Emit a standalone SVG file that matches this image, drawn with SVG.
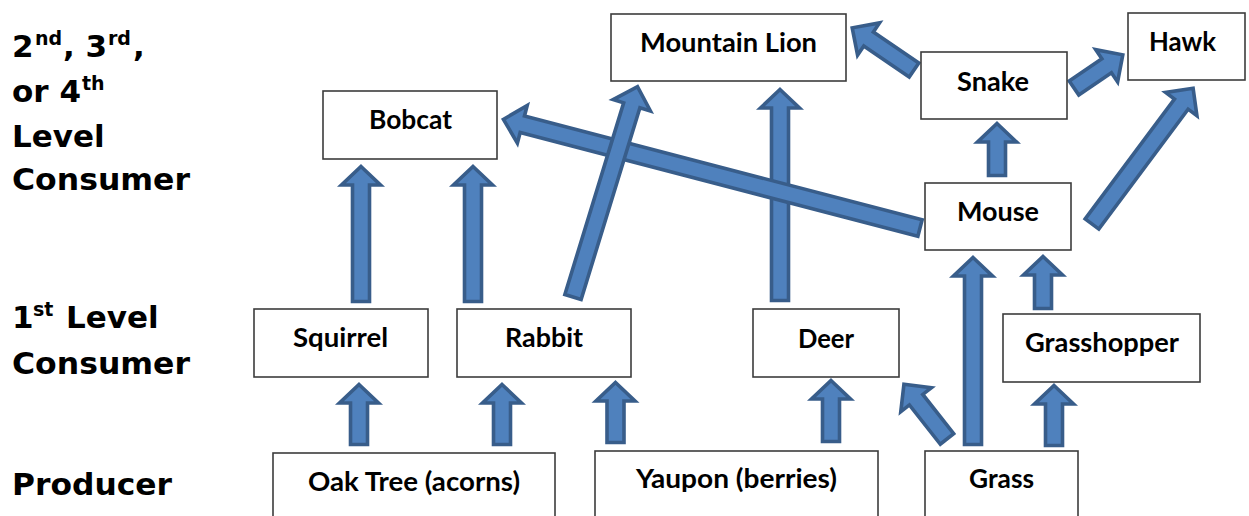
<svg xmlns="http://www.w3.org/2000/svg" width="1249" height="516" viewBox="0 0 1249 516">
<style>
.box{fill:#fff;stroke:#3c3c3c;stroke-width:1.6}
.lbl{font-family:Lato,"Open Sans","Liberation Sans",sans-serif;font-weight:700;font-size:26px;fill:#000;text-anchor:middle}
.side{font-family:"DejaVu Sans","Liberation Sans",sans-serif;font-weight:700;font-size:31px;fill:#000}
.sup{font-size:19px}
.arr{fill:#4F81BD;stroke:#385D8A;stroke-width:3.6;stroke-linejoin:miter}
</style>
<rect width="1249" height="516" fill="#fff"/>

<g id="side-labels">
<text class="side"><tspan x="12" y="57">2</tspan><tspan class="sup" x="35" y="45">nd</tspan><tspan x="63" y="57">, 3</tspan><tspan class="sup" x="108" y="45">rd</tspan><tspan x="133" y="57">,</tspan></text>
<text class="side"><tspan x="12" y="102">or 4</tspan><tspan class="sup" x="82" y="90">th</tspan></text>
<text class="side" x="12" y="147">Level</text>
<text class="side" x="12" y="190" textLength="178" lengthAdjust="spacingAndGlyphs">Consumer</text>
<text class="side"><tspan x="12" y="328">1</tspan><tspan class="sup" x="33" y="316">st</tspan><tspan x="66" y="328">Level</tspan></text>
<text class="side" x="12" y="374" textLength="178" lengthAdjust="spacingAndGlyphs">Consumer</text>
<text class="side" x="12" y="495" textLength="160" lengthAdjust="spacingAndGlyphs">Producer</text>
</g>

<g id="connectors">
<!-- vertical arrows -->
<polygon class="arr" points="359,384.5 378.5,403 367.5,403 367.5,444.5 350.5,444.5 350.5,403 339.5,403"/>
<polygon class="arr" points="502,384.5 521.5,403 510.5,403 510.5,444.5 493.5,444.5 493.5,403 482.5,403"/>
<polygon class="arr" points="615.5,382.5 635,401 624,401 624,442.5 607,442.5 607,401 596,401"/>
<polygon class="arr" points="831,380.5 850.5,399 839.5,399 839.5,441.5 822.5,441.5 822.5,399 811.5,399"/>
<polygon class="arr" points="1054,385.5 1073.5,404 1062.5,404 1062.5,445.5 1045.5,445.5 1045.5,404 1034.5,404"/>
<polygon class="arr" points="973,257.5 992.5,276 981.5,276 981.5,444.5 964.5,444.5 964.5,276 953.5,276"/>
<polygon class="arr" points="1043,256.5 1062.5,275 1051.5,275 1051.5,308.5 1034.5,308.5 1034.5,275 1023.5,275"/>
<polygon class="arr" points="997,123.5 1016.5,142 1005.5,142 1005.5,175.5 988.5,175.5 988.5,142 977.5,142"/>
<polygon class="arr" points="361,166.5 380.5,185 369.5,185 369.5,301.5 352.5,301.5 352.5,185 341.5,185"/>
<polygon class="arr" points="473,166.5 492.5,185 481.5,185 481.5,301.5 464.5,301.5 464.5,185 453.5,185"/>
<polygon class="arr" points="780,89.5 799.5,108 788.5,108 788.5,300.5 771.5,300.5 771.5,108 760.5,108"/>
<!-- diagonal arrows: local +x from tail to tip -->
<polygon class="arr" transform="translate(920,228) rotate(-165.38)" points="0,-8.5 411,-8.5 411,-19.5 430.5,0 411,19.5 411,8.5 0,8.5"/>
<polygon class="arr" transform="translate(573,297) rotate(-72.95)" points="0,-8.5 200.5,-8.5 200.5,-19.5 220,0 200.5,19.5 200.5,8.5 0,8.5"/>
<polygon class="arr" transform="translate(914,70) rotate(-145.69)" points="0,-8.5 55,-8.5 55,-19.5 74.8,0 55,19.5 55,8.5 0,8.5"/>
<polygon class="arr" transform="translate(1074,88) rotate(-34.22)" points="0,-8.5 39.5,-8.5 39.5,-19.5 59,0 39.5,19.5 39.5,8.5 0,8.5"/>
<polygon class="arr" transform="translate(1092,224) rotate(-53.33)" points="0,-8.5 149.5,-8.5 149.5,-19.5 169.3,0 149.5,19.5 149.5,8.5 0,8.5"/>
<polygon class="arr" transform="translate(947,439) rotate(-128.16)" points="0,-8.5 50,-8.5 50,-19.5 69.7,0 50,19.5 50,8.5 0,8.5"/>
</g>

<g id="node-mountain-lion"><rect class="box" x="611" y="14" width="235" height="67"/><text class="lbl" x="728.5" y="52" textLength="177" lengthAdjust="spacingAndGlyphs">Mountain Lion</text></g>
<g id="node-bobcat"><rect class="box" x="323" y="91" width="174" height="68"/><text class="lbl" x="410.5" y="129" textLength="83" lengthAdjust="spacingAndGlyphs">Bobcat</text></g>
<g id="node-snake"><rect class="box" x="921" y="52" width="146" height="67"/><text class="lbl" x="993" y="91" textLength="72" lengthAdjust="spacingAndGlyphs">Snake</text></g>
<g id="node-hawk"><rect class="box" x="1128" y="13" width="117" height="67"/><text class="lbl" x="1182.5" y="51" textLength="67" lengthAdjust="spacingAndGlyphs">Hawk</text></g>
<g id="node-mouse"><rect class="box" x="925" y="183" width="146" height="67"/><text class="lbl" x="998" y="221" textLength="82" lengthAdjust="spacingAndGlyphs">Mouse</text></g>
<g id="node-squirrel"><rect class="box" x="254" y="309" width="174" height="68"/><text class="lbl" x="340.5" y="347" textLength="95" lengthAdjust="spacingAndGlyphs">Squirrel</text></g>
<g id="node-rabbit"><rect class="box" x="457" y="309" width="174" height="68"/><text class="lbl" x="544" y="347" textLength="78" lengthAdjust="spacingAndGlyphs">Rabbit</text></g>
<g id="node-deer"><rect class="box" x="753" y="309" width="146" height="68"/><text class="lbl" x="826" y="348" textLength="56" lengthAdjust="spacingAndGlyphs">Deer</text></g>
<g id="node-grasshopper"><rect class="box" x="1003" y="314" width="197" height="68"/><text class="lbl" x="1102" y="352" textLength="154" lengthAdjust="spacingAndGlyphs">Grasshopper</text></g>
<g id="node-oak"><rect class="box" x="273" y="453" width="282" height="80"/><text class="lbl" x="414" y="491" textLength="212" lengthAdjust="spacingAndGlyphs">Oak Tree (acorns)</text></g>
<g id="node-yaupon"><rect class="box" x="595" y="451" width="283" height="80"/><text class="lbl" x="736.5" y="488" textLength="201" lengthAdjust="spacingAndGlyphs">Yaupon (berries)</text></g>
<g id="node-grass"><rect class="box" x="925" y="451" width="153" height="80"/><text class="lbl" x="1001.5" y="488" textLength="65" lengthAdjust="spacingAndGlyphs">Grass</text></g>
</svg>
